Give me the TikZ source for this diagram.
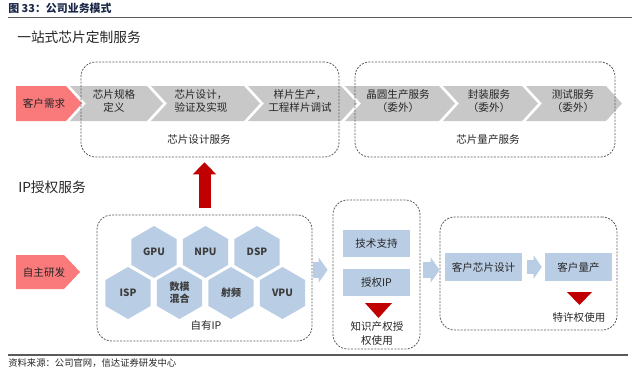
\documentclass[tikz,border=0pt]{standalone}
\usepackage{fontspec}
\setmainfont{Noto Sans CJK SC}
\usetikzlibrary{arrows.meta,positioning,shapes.geometric}
\definecolor{reqred}{RGB}{250,122,124}
\definecolor{chevgray}{RGB}{200,200,200}
\definecolor{ipblue}{RGB}{185,205,229}
\definecolor{arrowred}{RGB}{192,0,0}
\definecolor{ink}{RGB}{38,38,38}
\definecolor{navy}{RGB}{28,40,72}
\definecolor{frame}{RGB}{90,90,90}

\begin{document}
\begin{tikzpicture}[x=0.75pt,y=-0.75pt,
    chevtext/.style={align=center,text=ink,font=\fontsize{7.9}{9.8}\selectfont,inner sep=0pt},
    group/.style={draw=frame,dash pattern=on 1.5pt off 1pt,rounded corners=11pt,line width=0.6pt,inner sep=0pt},
    grouplabel/.style={text=ink,font=\fontsize{7.9}{9.6}\selectfont,inner sep=0pt},
    hexa/.style={regular polygon,regular polygon sides=6,shape border rotate=30,fill=ipblue,minimum size=39pt,inner sep=0pt,align=center,text=ink!90,font=\fontsize{7.5}{9}\selectfont\bfseries},
    ipbox/.style={fill=ipblue,minimum height=20.25pt,inner sep=0pt,text=ink,font=\fontsize{7.9}{9.6}\selectfont},
    heading/.style={anchor=west,text=ink,font=\fontsize{10.3}{12}\selectfont,inner sep=0pt},
    blockflow/.style={draw=ipblue,line width=12pt,-{Triangle[width=18.75pt,length=6.75pt]}},
    bigup/.style={draw=arrowred,line width=9pt,-{Triangle[width=17.25pt,length=9pt]}},
    rule/.style={draw=frame,line width=1.1pt}
  ]
    \useasboundingbox (0,0) rectangle (640,383);

    \node[anchor=west,inner sep=0pt,text=navy,font=\fontsize{8.2}{9.6}\selectfont\bfseries] (fig) at (8,8) {图 33：公司业务模式};
    \draw[rule] (8,17.5) -- (632,17.5);
    \node[heading] (onestop) at (17,37) {一站式芯片定制服务};

    % chip customisation chain
    \fill[reqred] (16,86) -- (66,86) -- (82,103.5) -- (66,121) -- (16,121) -- cycle;
    \node[chevtext] (need) at (44,103.5) {客户需求};
    \fill[chevgray] (70,86) -- (147,86) -- (163,103.5) -- (147,121) -- (70,121) -- (86,103.5) -- cycle;
    \node[chevtext] (spec) at (114,101) {芯片规格\\定义};
    \fill[chevgray] (151,86) -- (244,86) -- (260,103.5) -- (244,121) -- (151,121) -- (167,103.5) -- cycle;
    \node[chevtext] (verify) at (201,101) {芯片设计，\\验证及实现};
    \fill[chevgray] (248,86) -- (341,86) -- (357,103.5) -- (341,121) -- (248,121) -- (264,103.5) -- cycle;
    \node[chevtext] (sample) at (300,101) {样片生产，\\工程样片调试};
    \fill[chevgray] (345,86) -- (439,86) -- (455,103.5) -- (439,121) -- (345,121) -- (361,103.5) -- cycle;
    \node[chevtext] (wafer) at (398,101) {晶圆生产服务\\（委外）};
    \fill[chevgray] (443,86) -- (522,86) -- (538,103.5) -- (522,121) -- (443,121) -- (459,103.5) -- cycle;
    \node[chevtext] (pack) at (489,101) {封装服务\\（委外）};
    \fill[chevgray] (526,86) -- (606,86) -- (622,103.5) -- (606,121) -- (526,121) -- (542,103.5) -- cycle;
    \node[chevtext] (test) at (573,101) {测试服务\\（委外）};

    \node[group,minimum width=193.5pt,minimum height=71.25pt] (design) at (210,109.5) {};
    \node[grouplabel] (designlbl) at (199,140) {芯片设计服务};
    \node[group,minimum width=195pt,minimum height=71.25pt] (mass) at (485,109.5) {};
    \node[grouplabel] (masslbl) at (488,140) {芯片量产服务};

    % IP licensing
    \node[heading] (iplic) at (18,187) {IP授权服务};
    \fill[reqred] (16,255) -- (64,255) -- (80,272) -- (64,289) -- (16,289) -- cycle;
    \node[chevtext] (rnd) at (44,272) {自主研发};

    \node[group,minimum width=161.25pt,minimum height=94.5pt] (own) at (204.5,278) {};
    \node[hexa] (gpu) at (154,252) {GPU};
    \node[hexa] (npu) at (205.5,252) {NPU};
    \node[hexa] (dsp) at (257,252) {DSP};
    \node[hexa] (isp) at (128,293) {ISP};
    \node[hexa] (mixed) at (179.5,293) {数模\\混合};
    \node[hexa] (rf) at (231,293) {射频};
    \node[hexa] (vpu) at (282.5,293) {VPU};
    \node[grouplabel] (ownlbl) at (206,325) {自有IP};

    \node[group,minimum width=65.25pt,minimum height=111.75pt] (lic) at (376.5,274.5) {};
    \node[ipbox,minimum width=50.25pt] (support) at (376.5,243.5) {技术支持};
    \node[ipbox,minimum width=50.25pt] (grant) at (376.5,282.5) {授权IP};
    \fill[arrowred] (365,303) -- (392,303) -- (378.5,318) -- cycle;
    \node[chevtext,font=\fontsize{7.9}{10.5}\selectfont] (royalty) at (377,334) {知识产权授\\权使用};

    \node[group,minimum width=132.75pt,minimum height=84.75pt] (cust) at (528.5,273.5) {};
    \node[ipbox,minimum width=57.75pt,minimum height=21pt] (cdesign) at (483.5,267) {客户芯片设计};
    \node[ipbox,minimum width=50.25pt,minimum height=21pt] (cmass) at (578.5,267) {客户量产};
    \fill[arrowred] (567,292) -- (592,292) -- (579.5,305) -- cycle;
    \node[chevtext] (franchise) at (579,318) {特许权使用};

    \coordinate (lvl) at (0,270);
    \draw[blockflow,shorten <=0.75pt,shorten >=3.75pt] (own.east |- lvl) -- (lic.west |- lvl);
    \draw[blockflow,shorten <=2.25pt] (lic.east |- lvl) -- (cust.west |- lvl);
    \draw[blockflow,line width=10.5pt,-{Triangle[width=17.25pt,length=6pt]},shorten <=3.75pt,shorten >=2.25pt] (cdesign) -- (cmass);
    \draw[bigup,shorten <=5.25pt,shorten >=3.75pt] (own.north) -- (own.north |- design.south);

    \draw[rule] (8,355) -- (628,355);
    \node[anchor=west,inner sep=0pt,text=ink,font=\fontsize{7}{8}\selectfont] (src) at (8,363.5) {资料来源：公司官网，信达证券研发中心};
  \end{tikzpicture}
\end{document}
